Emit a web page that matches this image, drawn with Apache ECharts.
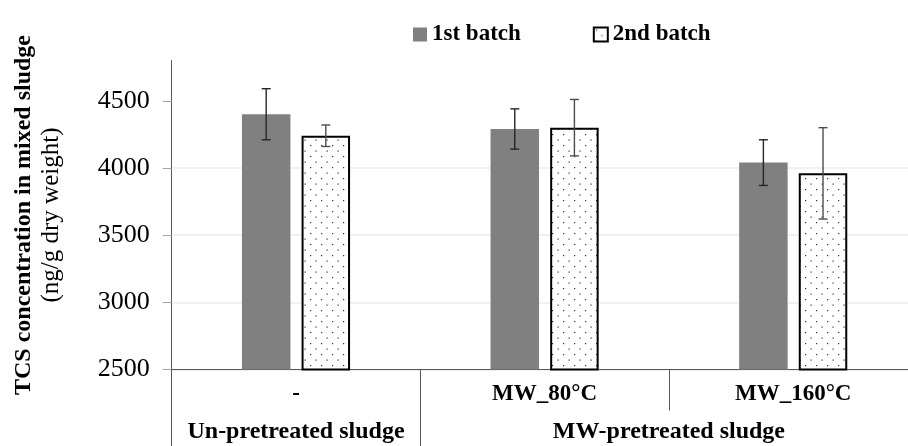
<!DOCTYPE html>
<html>
<head>
<meta charset="utf-8">
<script src="https://cdn.jsdelivr.net/npm/echarts@6/dist/echarts.min.js"></script>
<style>
  html, body { margin: 0; padding: 0; background: #fff; }
  #chart { width: 908px; height: 446px; }
</style>
</head>
<body>
<div id="chart"></div>
<script>
// Treatment conditions (lower axis row) and their sludge groups (bottom row)
const conditions = ['-', 'MW_80°C', 'MW_160°C'];
const groupLabels = ['Un-pretreated sludge', 'MW-pretreated sludge'];
const groupSizes = [1, 2];

// TCS concentration (ng/g dry weight), mean and error per batch
const batch1 = [4400, 4290, 4040];
const batch1Err = [190, 150, 170];
const batch2 = [4240, 4300, 3960];
const batch2Err = [80, 210, 340];

const seriesNames = ['1st batch', '2nd batch'];
const yTicks = [2500, 3000, 3500, 4000, 4500];

const FONT = '"Liberation Serif", "Times New Roman", serif';
const BAR_W = 0.195;   // bar width as a share of the category band
const BAR_GAP = 0.23;  // gap between the two bars as a share of bar width

// Dotted fill for the second batch
function dotPattern() {
  const c = document.createElement('canvas');
  c.width = 11; c.height = 11;
  const g = c.getContext('2d');
  g.fillStyle = '#ffffff';
  g.fillRect(0, 0, 11, 11);
  g.fillStyle = '#333333';
  g.fillRect(2, 2, 1.2, 1.2);
  g.fillRect(7.5, 7.5, 1.2, 1.2);
  return c;
}

// Group boundaries and centers along the 0..N value axis
const groupBounds = [0];
const groupCenters = [];
groupSizes.forEach(function (s, i) {
  groupCenters.push(groupBounds[i] + s / 2);
  groupBounds.push(groupBounds[i] + s);
});

function errorSeries(name, means, errs, color, side) {
  return {
    type: 'custom',
    name: name + ' error',
    xAxisIndex: 0,
    yAxisIndex: 0,
    z: 5,
    silent: true,
    data: means.map(function (m, i) { return [i, m - errs[i], m + errs[i]]; }),
    renderItem: function (params, api) {
      const band = api.size([1, 0])[0];
      const off = side * band * (BAR_W + BAR_W * BAR_GAP) / 2;
      const lo = api.coord([api.value(0), api.value(1)]);
      const hi = api.coord([api.value(0), api.value(2)]);
      const x = lo[0] + off;
      const cap = 4.5;
      const style = { stroke: color, lineWidth: 1.4 };
      return {
        type: 'group',
        children: [
          { type: 'line', shape: { x1: x, y1: lo[1], x2: x, y2: hi[1] }, style: style },
          { type: 'line', shape: { x1: x - cap, y1: lo[1], x2: x + cap, y2: lo[1] }, style: style },
          { type: 'line', shape: { x1: x - cap, y1: hi[1], x2: x + cap, y2: hi[1] }, style: style }
        ]
      };
    }
  };
}

const chart = echarts.init(document.getElementById('chart'), null, { renderer: 'canvas' });

chart.setOption({
  animation: false,
  backgroundColor: '#ffffff',
  textStyle: { fontFamily: FONT },
  legend: {
    data: seriesNames,
    left: 408,
    top: 18,
    itemWidth: 14,
    itemHeight: 14,
    itemGap: 72,
    icon: 'rect',
    textStyle: { fontFamily: FONT, fontSize: 23, fontWeight: 'bold', color: '#000' }
  },
  grid: { left: 171.7, right: -9.5, top: 60.5, bottom: 76.5, containLabel: false, outerBoundsMode: 'none' },
  xAxis: [
    {
      type: 'category',
      data: conditions,
      position: 'bottom',
      axisLine: { show: true, lineStyle: { color: '#595959', width: 1 } },
      axisTick: { show: true, interval: 0, alignWithLabel: false, length: 41, lineStyle: { color: '#595959', width: 1 } },
      axisLabel: { interval: 0, margin: 13.5, fontFamily: FONT, fontSize: 23, fontWeight: 'bold', color: '#000' },
      splitLine: { show: false }
    },
    {
      type: 'value',
      position: 'bottom',
      min: 0,
      max: groupBounds[groupBounds.length - 1],
      axisLine: { show: false },
      axisTick: { show: true, customValues: groupBounds, length: 77, lineStyle: { color: '#595959', width: 1 } },
      axisLabel: {
        customValues: groupCenters,
        margin: 50.5,
        fontFamily: FONT, fontSize: 24, fontWeight: 'bold', color: '#000',
        formatter: function (v) {
          const i = groupCenters.indexOf(v);
          return i >= 0 ? groupLabels[i] : '';
        }
      },
      splitLine: { show: false }
    }
  ],
  yAxis: {
    type: 'value',
    min: 2500,
    max: 4800,
    interval: 500,
    name: '{t|TCS concentration in mixed sludge}\n{u|(ng/g dry weight)}',
    nameLocation: 'middle',
    nameRotate: 90,
    nameGap: 106,
    nameTextStyle: {
      align: 'center',
      rich: {
        t: { fontFamily: FONT, fontSize: 24, fontWeight: 'bold', color: '#000', lineHeight: 28, align: 'center' },
        u: { fontFamily: FONT, fontSize: 25, color: '#000', lineHeight: 28, align: 'center' }
      }
    },
    axisLine: { show: true, lineStyle: { color: '#595959', width: 1 } },
    axisTick: { show: true, customValues: yTicks, length: 9, lineStyle: { color: '#a6a6a6', width: 1 } },
    axisLabel: {
      customValues: yTicks, margin: 22, fontFamily: FONT, fontSize: 26, color: '#000',
      formatter: function (v) { return String(v); }
    },
    splitLine: { show: true, showMaxLine: false, lineStyle: { color: '#ececec', width: 1.5 } }
  },
  series: [
    {
      type: 'bar',
      name: seriesNames[0],
      data: batch1,
      barWidth: (BAR_W * 100) + '%',
      barGap: (BAR_GAP * 100) + '%',
      itemStyle: { color: '#808080' }
    },
    {
      type: 'bar',
      name: seriesNames[1],
      data: batch2,
      barWidth: (BAR_W * 100) + '%',
      barGap: (BAR_GAP * 100) + '%',
      itemStyle: { color: { image: dotPattern(), repeat: 'repeat' }, borderColor: '#000', borderWidth: 2 }
    },
    errorSeries(seriesNames[0], batch1, batch1Err, '#262626', -1),
    errorSeries(seriesNames[1], batch2, batch2Err, '#4d4d4d', 1)
  ]
});
</script>
</body>
</html>
